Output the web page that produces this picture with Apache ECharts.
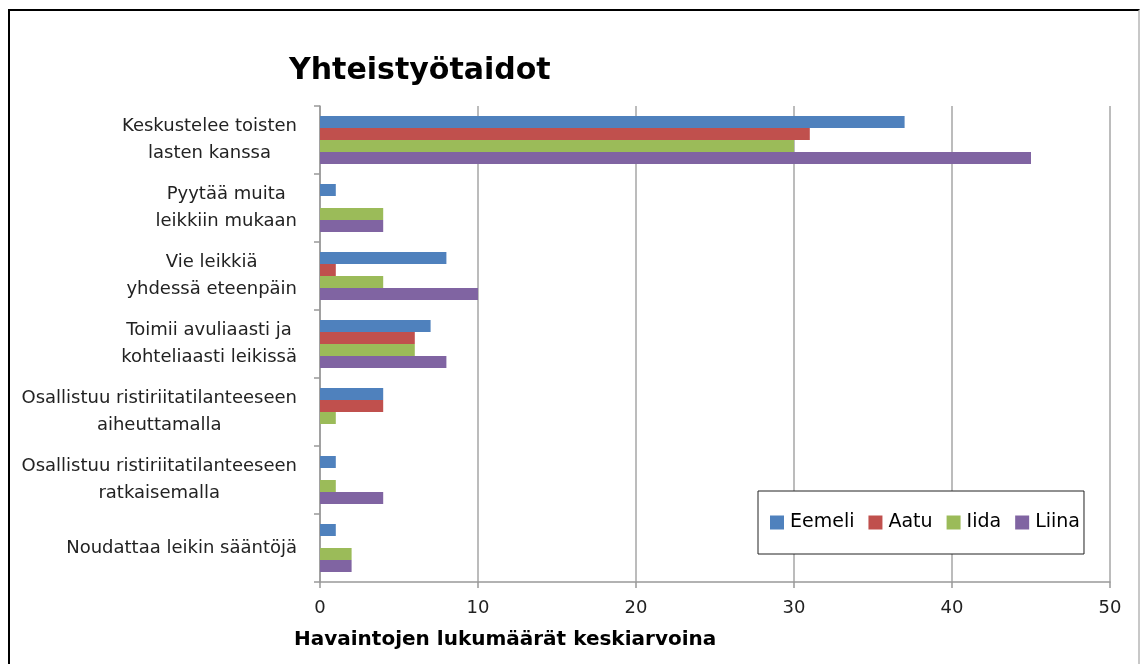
<!DOCTYPE html>
<html>
<head>
<meta charset="utf-8">
<script src="https://cdn.jsdelivr.net/npm/echarts@6/dist/echarts.min.js"></script>
<style>
html,body{margin:0;padding:0;background:#fff;}
#frame{position:absolute;left:8px;top:9px;width:1128px;height:700px;border-left:2px solid #000;border-top:2px solid #000;border-right:2px solid #c8c8c8;}
#main{position:absolute;left:0;top:0;width:1141px;height:664px;}
</style>
</head>
<body>
<div id="frame"></div>
<div id="main"></div>
<script>
const categories = [
  "Keskustelee toisten\nlasten kanssa",
  "Pyytää muita\nleikkiin mukaan",
  "Vie leikkiä\nyhdessä eteenpäin",
  "Toimii avuliaasti ja\nkohteliaasti leikissä",
  "Osallistuu ristiriitatilanteeseen\naiheuttamalla",
  "Osallistuu ristiriitatilanteeseen\nratkaisemalla",
  "Noudattaa leikin sääntöjä"
];
const seriesNames = ["Eemeli", "Aatu", "Iida", "Liina"];
const eemeli = [37, 1, 8, 7, 4, 1, 1];
const aatu   = [31, 0, 1, 6, 4, 0, 0];
const iida   = [30, 4, 4, 6, 1, 1, 2];
const liina  = [45, 4, 10, 8, 0, 4, 2];
const xTicks = [0, 10, 20, 30, 40, 50];
const colors = ["#4F81BD", "#C0504D", "#9BBB59", "#8064A2"];

const chart = echarts.init(document.getElementById('main'), null, {renderer: 'canvas'});
const font = "'DejaVu Sans', sans-serif";
const dataSets = [eemeli, aatu, iida, liina];

chart.setOption({
  backgroundColor: 'transparent',
  animation: false,
  title: [
    {text: "Yhteistyötaidot", left: 284, top: 51,
     textStyle: {fontFamily: font, fontWeight: 'bold', fontSize: 30, color: '#000'}},
    {text: "Havaintojen lukumäärät keskiarvoina", left: 289, top: 625,
     textStyle: {fontFamily: font, fontWeight: 'bold', fontSize: 20, color: '#000'}}
  ],
  legend: {
    data: seriesNames,
    left: 758, top: 491,
    orient: 'horizontal',
    backgroundColor: '#fff',
    borderColor: '#222', borderWidth: 1,
    padding: [22, 4, 22, 12],
    itemWidth: 14, itemHeight: 14, itemGap: 14,
    icon: 'rect',
    textStyle: {fontFamily: font, fontSize: 19, color: '#000', padding: [0, 0, 0, 1]}
  },
  grid: {left: 320, right: 31, top: 106, bottom: 82, containLabel: false},
  xAxis: {
    type: 'value', min: 0, max: 50, interval: 10,
    axisLine: {show: true, lineStyle: {color: '#999', width: 1.5}},
    axisTick: {show: true, length: 6, lineStyle: {color: '#999', width: 1.5}},
    axisLabel: {fontFamily: font, fontSize: 18, color: '#222', margin: 17,
      formatter: v => xTicks.includes(v) ? String(v) : ''},
    splitLine: {show: true, lineStyle: {color: '#a6a6a6', width: 1.5}}
  },
  yAxis: {
    type: 'category', data: categories, inverse: true,
    axisLine: {show: true, lineStyle: {color: '#999', width: 1.5}},
    axisTick: {show: true, length: 6, lineStyle: {color: '#999', width: 1.5}},
    axisLabel: {
      fontFamily: font, fontSize: 18, color: '#222', margin: 23, lineHeight: 27,
      formatter: v => v.split("\n").map(s => "{c|" + s + "}").join("\n"),
      rich: {c: {align: 'center', fontFamily: font, fontSize: 18, color: '#222', lineHeight: 27}}
    },
    splitLine: {show: false}
  },
  series: dataSets.map((d, i) => ({
    name: seriesNames[i], type: 'bar', data: d,
    barWidth: 12, barGap: '0%',
    itemStyle: {color: colors[i], borderWidth: 0}
  }))
});
</script>
</body>
</html>
